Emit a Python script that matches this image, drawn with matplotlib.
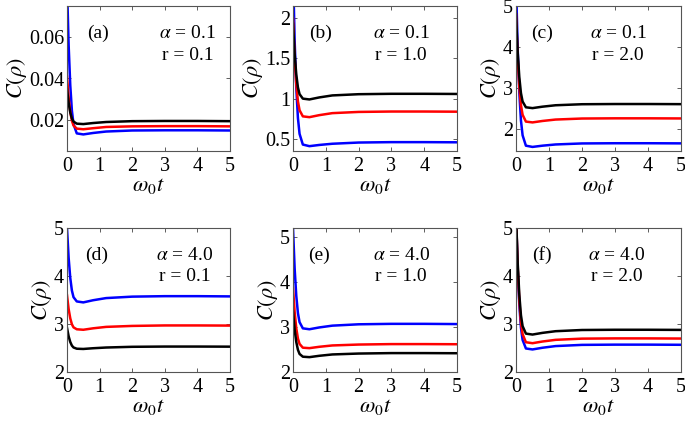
import numpy as np
import matplotlib
matplotlib.use('Agg')
import matplotlib.pyplot as plt
from matplotlib.ticker import FuncFormatter

plt.rcParams['font.family'] = 'Liberation Serif'
plt.rcParams['mathtext.fontset'] = 'stix'

# Zeitachse (omega_0 t), gemeinsam fuer alle Kurven
t = [0, 0.05, 0.1, 0.15, 0.2, 0.3, 0.5, 0.8, 1.2, 2, 3, 4, 5]

# (a) alpha = 0.1, r = 0.1
a_black = [0.035, 0.0282, 0.0236, 0.0207, 0.0192, 0.0182, 0.0180, 0.0185, 0.0190, 0.0194, 0.0195, 0.0195, 0.0194]
a_red = [0.041, 0.0308, 0.0239, 0.0196, 0.0173, 0.0158, 0.0155, 0.0160, 0.0166, 0.0169, 0.0170, 0.0170, 0.0169]
a_blue = [0.085, 0.0562, 0.0368, 0.0245, 0.0180, 0.0135, 0.0130, 0.0137, 0.0144, 0.0149, 0.0150, 0.0150, 0.0149]

# (b) alpha = 0.1, r = 1.0
b_black = [1.93, 1.554, 1.30, 1.14, 1.056, 1.00, 0.99, 1.015, 1.04, 1.055, 1.06, 1.06, 1.058]
b_red = [2.0, 1.508, 1.176, 0.967, 0.856, 0.78, 0.77, 0.795, 0.82, 0.835, 0.84, 0.84, 0.838]
b_blue = [2.6, 1.724, 1.133, 0.76, 0.563, 0.43, 0.41, 0.425, 0.44, 0.455, 0.46, 0.46, 0.458]

# (c) alpha = 0.1, r = 2.0
c_black = [4.8, 3.88, 3.26, 2.868, 2.661, 2.52, 2.50, 2.535, 2.57, 2.595, 2.60, 2.60, 2.597]
c_red = [4.8, 3.74, 3.025, 2.574, 2.336, 2.17, 2.15, 2.185, 2.22, 2.245, 2.25, 2.25, 2.247]
c_blue = [5.6, 3.98, 2.887, 2.198, 1.834, 1.58, 1.55, 1.58, 1.61, 1.635, 1.64, 1.64, 1.637]

# (d) alpha = 4.0, r = 0.1
d_black = [2.92, 2.744, 2.625, 2.55, 2.511, 2.485, 2.48, 2.495, 2.51, 2.525, 2.53, 2.53, 2.528]
d_red = [3.6, 3.312, 3.118, 2.995, 2.93, 2.89, 2.88, 2.91, 2.94, 2.96, 2.97, 2.97, 2.967]
d_blue = [5.0, 4.38, 3.96, 3.698, 3.559, 3.47, 3.45, 3.495, 3.54, 3.57, 3.58, 3.58, 3.575]

# (e) alpha = 4.0, r = 1.0
e_black = [3.35, 2.942, 2.667, 2.493, 2.401, 2.34, 2.33, 2.36, 2.39, 2.41, 2.42, 2.42, 2.417]
e_red = [3.87, 3.334, 2.972, 2.744, 2.624, 2.54, 2.53, 2.56, 2.59, 2.61, 2.62, 2.62, 2.617]
e_blue = [5.2, 4.30, 3.693, 3.31, 3.108, 2.97, 2.95, 2.99, 3.03, 3.06, 3.07, 3.07, 3.065]

# (f) alpha = 4.0, r = 2.0
f_black = [5.3, 4.292, 3.612, 3.183, 2.956, 2.80, 2.78, 2.815, 2.85, 2.875, 2.88, 2.88, 2.877]
f_red = [5.3, 4.22, 3.491, 3.032, 2.789, 2.62, 2.60, 2.635, 2.67, 2.695, 2.70, 2.70, 2.697]
f_blue = [5.3, 4.168, 3.404, 2.923, 2.668, 2.49, 2.47, 2.505, 2.54, 2.565, 2.57, 2.57, 2.567]

panels = [
    ('(a)', r'$\alpha$ = 0.1', 'r = 0.1', a_black, a_red, a_blue, (0.005, 0.075), [0.02, 0.04, 0.06]),
    ('(b)', r'$\alpha$ = 0.1', 'r = 1.0', b_black, b_red, b_blue, (0.35, 2.15), [0.5, 1, 1.5, 2]),
    ('(c)', r'$\alpha$ = 0.1', 'r = 2.0', c_black, c_red, c_blue, (1.45, 5), [2, 3, 4, 5]),
    ('(d)', r'$\alpha$ = 4.0', 'r = 0.1', d_black, d_red, d_blue, (2, 5), [2, 3, 4, 5]),
    ('(e)', r'$\alpha$ = 4.0', 'r = 1.0', e_black, e_red, e_blue, (2, 5.2), [2, 3, 4, 5]),
    ('(f)', r'$\alpha$ = 4.0', 'r = 2.0', f_black, f_red, f_blue, (2, 5), [2, 3, 4, 5]),
]

# Achsenpositionen in Pixeln (links, rechts, oben, unten)
W, H = 685, 424
boxes = [(67, 230, 6, 151), (293, 457, 6, 151), (516, 681, 6, 151),
         (67, 230, 228, 372), (293, 457, 228, 372), (516, 681, 228, 372)]
lab_x = [0.19, 0.17, 0.16, 0.18, 0.16, 0.16]
txt_x = [0.74, 0.66, 0.62, 0.72, 0.66, 0.61]

fig = plt.figure(figsize=(6.85, 4.24), dpi=100)

for (name, alab, rlab, yk, yr, yb, ylim, yt), (l, r, tp, bt), lx, tx in zip(panels, boxes, lab_x, txt_x):
    ax = fig.add_axes([l / W, (H - bt) / H, (r - l) / W, (bt - tp) / H])
    ax.plot(t, yb, color='#0000ff', lw=1.8)
    ax.plot(t, yr, color='#ff0000', lw=1.8)
    ax.plot(t, yk, color='black', lw=1.8)
    ax.set_xlim(0, 5)
    ax.set_ylim(*ylim)
    ax.set_xticks([0, 1, 2, 3, 4, 5])
    ax.set_yticks(yt)
    ax.yaxis.set_major_formatter(FuncFormatter(lambda v, p: '%g' % v))
    ax.tick_params(direction='in', length=3, width=0.6, labelsize=14.5,
                   top=True, right=True, color='#444444', pad=2)
    ax.tick_params(axis='x', pad=4)
    for sp in ax.spines.values():
        sp.set_color('#555555')
        sp.set_linewidth(0.8)
    ax.set_xlabel(r'$\omega_0 t$', fontsize=16, labelpad=0)
    ax.set_ylabel(r'$C(\rho)$', fontsize=16, labelpad=0)
    ax.text(lx, 0.81, name, transform=ax.transAxes, fontsize=14, ha='center', va='center')
    ax.text(tx, 0.81, alab, transform=ax.transAxes, fontsize=14, ha='center', va='center')
    ax.text(tx, 0.66, rlab, transform=ax.transAxes, fontsize=14, ha='center', va='center')

fig.savefig('out.png', dpi=100)
